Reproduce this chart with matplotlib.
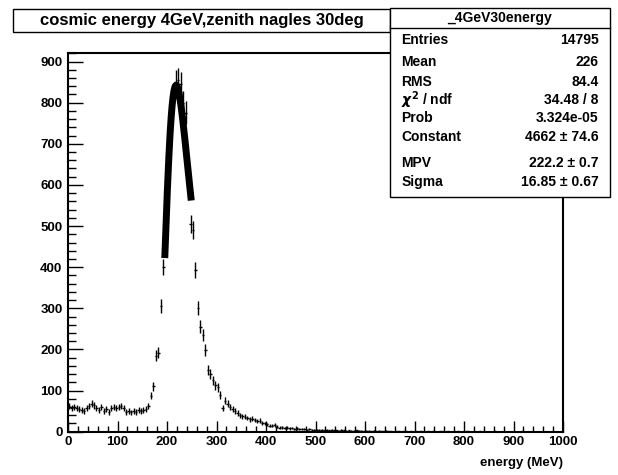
import numpy as np
import matplotlib
matplotlib.use('Agg')
import matplotlib.pyplot as plt
from matplotlib.patches import Rectangle
from matplotlib.ticker import MultipleLocator

plt.rcParams['font.family'] = ['Liberation Sans', 'DejaVu Sans']
plt.rcParams['font.weight'] = 'bold'

# histogram: 200 bins of 5 MeV from 0 to 1000
bin_width = 5.0
counts = [
    # 0-100
    62, 58, 60, 57, 55, 53, 50, 58, 62, 68, 64, 58, 52, 60, 50, 55, 48, 58, 60, 58,
    # 100-200
    60, 62, 58, 48, 50, 47, 50, 48, 52, 50, 52, 55, 62, 88, 110, 185, 192, 305, 400, 520,
    # 200-300
    650, 740, 800, 850, 855, 845, 800, 775, 650, 505, 490, 393, 300, 255, 235, 199, 150, 140, 125, 113,
    # 300-400
    108, 90, 57, 75, 68, 60, 55, 50, 45, 40, 37, 36, 33, 30, 32, 28, 25, 27, 22, 20,
    # 400-500
    18, 15, 14, 16, 12, 10, 11, 9, 10, 8, 9, 7, 8, 6, 7, 6, 5, 6, 5, 4,
    # 500-600
    5, 4, 4, 3, 5, 3, 4, 3, 3, 2, 4, 3, 2, 3, 2, 2, 3, 2, 2, 1,
    # 600-700
    2, 2, 1, 2, 1, 2, 1, 1, 2, 1, 1, 0, 1, 1, 0, 1, 1, 0, 1, 0,
    # 700-800
    1, 0, 1, 0, 0, 1, 0, 1, 0, 0, 1, 0, 0, 1, 0, 0, 0, 1, 0, 0,
    # 800-900
    0, 1, 0, 0, 0, 0, 1, 0, 0, 0, 0, 0, 1, 0, 0, 0, 0, 0, 0, 0,
    # 900-1000
    0, 0, 0, 1, 0, 0, 0, 0, 0, 0, 0, 0, 0, 0, 0, 0, 0, 0, 0, 0,
]

# landau fit parameters (from stats box)
fit_const = 4662.0
fit_mpv = 222.2
fit_sigma = 16.85
fit_lo, fit_hi = 195.5, 249.0

stats_title = "_4GeV30energy"
stats_names = ["Entries", "Mean", "RMS", r"$\chi^{2}$ / ndf", "Prob", "Constant", "MPV", "Sigma"]
stats_values = ["14795", "226", "84.4", "34.48 / 8", "3.324e-05",
                "4662 \u00b1 74.6", "222.2 \u00b1 0.7", "16.85 \u00b1 0.67"]
stats_rows_y = [40, 61.7, 81.7, 100, 118.3, 136.7, 163.3, 181.7]  # pixel rows

title = "cosmic energy 4GeV,zenith nagles 30deg"


def landau(lam):
    # Landau density, phi(l) = 1/pi * int exp(-t ln t - l t) sin(pi t) dt
    t = np.linspace(1e-9, 40, 40001)
    integ = np.exp(-t * np.log(t) - np.outer(lam, t)) * np.sin(np.pi * t)
    return np.trapezoid(integ, t, axis=1) / np.pi


W, H = 618, 475
fig = plt.figure(figsize=(W / 100, H / 100), dpi=100)
ax = fig.add_axes([68 / W, (H - 431.7) / H, (563 - 68) / W, (431.7 - 53.3) / H])

counts = np.array(counts, dtype=float)
centers = bin_width * (np.arange(len(counts)) + 0.5)
m = counts > 0
ax.errorbar(centers[m], counts[m], xerr=bin_width / 2, yerr=np.sqrt(counts[m]),
            fmt='none', ecolor='black', elinewidth=1.0, capsize=0)

xf = np.linspace(fit_lo, fit_hi, 300)
ax.plot(xf, fit_const * landau((xf - fit_mpv) / fit_sigma), color='black',
        lw=5, solid_capstyle='butt')

ax.set_xlim(0, 1000)
ax.set_ylim(0, 920)
ax.xaxis.set_major_locator(MultipleLocator(100))
ax.xaxis.set_minor_locator(MultipleLocator(20))
ax.yaxis.set_major_locator(MultipleLocator(100))
ax.yaxis.set_minor_locator(MultipleLocator(20))
ax.tick_params(axis='x', which='major', direction='in', length=8, width=1, labelsize=9.5, pad=3)
ax.tick_params(axis='x', which='minor', direction='in', length=4, width=1)
ax.tick_params(axis='y', which='major', direction='in', length=11, width=1, labelsize=9.5, pad=4)
ax.tick_params(axis='y', which='minor', direction='in', length=5.5, width=1)
for lab in ax.get_xticklabels() + ax.get_yticklabels():
    lab.set_fontweight('bold')
for s in ax.spines.values():
    s.set_linewidth(1.5)

fig.text(563 / W, 1 - 463 / H, "energy (MeV)", ha='right', va='center', fontsize=9.5,
         fontweight='bold')

# title box
fig.patches.append(Rectangle((13.3 / W, 1 - 31.7 / H), (390 - 13.3) / W, (31.7 - 9.3) / H,
                             transform=fig.transFigure, facecolor='white',
                             edgecolor='black', lw=1, zorder=5))
fig.text(201.7 / W, 1 - 20.5 / H, title, ha='center', va='center', fontsize=12,
         fontweight='bold', zorder=6)

# stats box
bx0, bx1, by0, by1 = 389.7, 609.7, 8.3, 196.7
fig.patches.append(Rectangle((bx0 / W, 1 - by1 / H), (bx1 - bx0) / W, (by1 - by0) / H,
                             transform=fig.transFigure, facecolor='white',
                             edgecolor='black', lw=1, zorder=5))
fig.lines.append(plt.Line2D([bx0 / W, bx1 / W], [1 - 28.3 / H, 1 - 28.3 / H],
                            transform=fig.transFigure, color='black', lw=1, zorder=6))
fig.text((bx0 + bx1) / 2 / W, 1 - 18.3 / H, stats_title, ha='center', va='center',
         fontsize=10, fontweight='bold', zorder=6)
for name, val, yy in zip(stats_names, stats_values, stats_rows_y):
    fig.text(401.3 / W, 1 - yy / H, name, ha='left', va='center', fontsize=10,
             fontweight='bold', zorder=6)
    fig.text(598.7 / W, 1 - yy / H, val, ha='right', va='center', fontsize=10,
             fontweight='bold', zorder=6)

fig.savefig('out.png', dpi=100)
